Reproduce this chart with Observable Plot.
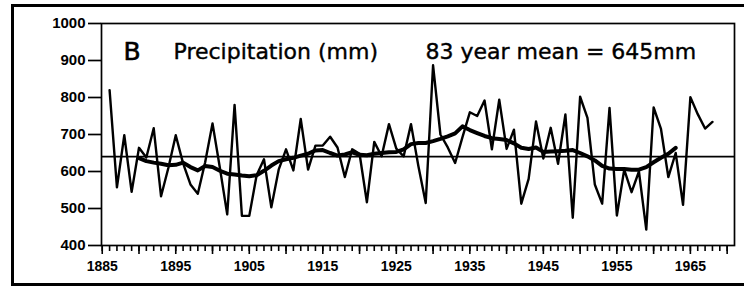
<!DOCTYPE html>
<html><head><meta charset="utf-8">
<script src="https://cdn.jsdelivr.net/npm/d3@7"></script>
<script src="https://cdn.jsdelivr.net/npm/@observablehq/plot@0.6"></script>
<style>
html,body{margin:0;padding:0;background:#fff;}
#chart{width:744px;height:288px;overflow:hidden;}
</style></head><body><div id="chart"></div>
<script>
// annual precipitation (mm), 1886..1968
const startYear = 1886;
const precip = [
  820, 557, 698, 545, 664, 638, 717, 533, 610, 698,
  622, 565, 540, 625, 730, 610, 484, 780, 480, 480,
  590, 633, 503, 605, 660, 603, 742, 605, 670, 670,
  694, 665, 585, 660, 648, 517, 680, 641, 728, 662,
  641, 728, 615, 515, 887, 700, 665, 623, 693, 760,
  750, 792, 660, 794, 661, 713, 513, 580, 735, 635,
  718, 621, 754, 475, 802, 745, 565, 513, 772, 481,
  605, 544, 600, 443, 773, 715, 585, 650, 510, 801,
  755, 716, 734
];
// running mean (thick line), 1890..1963
const maStart = 1890;
const runningMean = [
  636, 628, 624, 621, 617, 618, 624, 612, 603, 615,
  612, 602, 594, 592, 589, 587, 590, 602, 616, 628,
  633, 637, 643, 648, 657, 658, 650, 643, 646, 652,
  645, 644, 648, 650, 652, 653, 660, 674, 677, 677,
  682, 688, 695, 703, 722, 712, 704, 696, 690, 688,
  685, 676, 664, 661, 665, 653, 654, 655, 656, 658,
  650, 641, 630, 615, 608, 607, 607, 605, 605, 612,
  625, 637, 648, 664
];
const meanLine = [640];
const yTicks = [400, 500, 600, 700, 800, 900, 1000];
const decadeTicks = [1885, 1895, 1905, 1915, 1925, 1935, 1945, 1955, 1965];
const titleLetter = ["B"];
const titleText = ["Precipitation (mm)"];
const meanText = ["83 year mean = 645mm"];

const annual = precip.map((v, i) => ({year: startYear + i, value: v}));
const smooth = runningMean.map((v, i) => ({year: maStart + i, value: v}));
const yearTicks = d3.range(1885, 1971);
const fiveTicks = d3.range(1885, 1971, 5);
const titleFont = "'DejaVu Sans', sans-serif";

const plot = Plot.plot({
  width: 744, height: 288,
  marginLeft: 101, marginRight: 10, marginTop: 23, marginBottom: 43,
  x: {domain: [1884.9, 1971], label: null},
  y: {domain: [400, 1000], label: null},
  style: {fontFamily: "'Liberation Sans', Arial, sans-serif", fontSize: "15px", fontWeight: "bold", background: "white", color: "black", overflow: "hidden"},
  marks: [
    Plot.frame({stroke: "black", strokeWidth: 3, insetLeft: -89, insetTop: -18, insetBottom: -39, insetRight: -40}),
    Plot.frame({stroke: "black", strokeWidth: 1.7}),
    Plot.ruleY(meanLine, {stroke: "black", strokeWidth: 1.7}),
    Plot.lineY(annual, {x: "year", y: "value", stroke: "black", strokeWidth: 2.4}),
    Plot.lineY(smooth, {x: "year", y: "value", stroke: "black", strokeWidth: 4}),
    Plot.axisY({ticks: yTicks, tickSize: 13, tickPadding: 3, tickFormat: d => String(d), label: null, strokeWidth: 1.7}),
    Plot.axisX({ticks: yearTicks, tickSize: 6, tickFormat: () => "", label: null, strokeWidth: 1.6}),
    Plot.axisX({ticks: fiveTicks, tickSize: 9, tickFormat: () => "", label: null, strokeWidth: 1.6}),
    Plot.axisX({ticks: decadeTicks, tickSize: 0, tickPadding: 16, tickFormat: d => String(d), label: null}),
    Plot.text(titleLetter, {text: d => d, frameAnchor: "top-left", textAnchor: "start", dx: 22, dy: 19, fontSize: 25, fontWeight: "normal", fontFamily: titleFont, fill: "black", stroke: "black", strokeWidth: 0.6}),
    Plot.text(titleText, {text: d => d, frameAnchor: "top-left", textAnchor: "start", dx: 72, dy: 20, fontSize: 22, fontWeight: "normal", fontFamily: titleFont, fill: "black", stroke: "black", strokeWidth: 0.4}),
    Plot.text(meanText, {text: d => d, frameAnchor: "top-left", textAnchor: "start", dx: 324, dy: 20, fontSize: 22, fontWeight: "normal", fontFamily: titleFont, fill: "black", stroke: "black", strokeWidth: 0.4})
  ]
});
// enlarge the tick labels (inline style on each text node)
d3.select(plot).selectAll("text").each(function() {
  const t = (this.textContent || "").trim();
  if (/^\d{3,4}$/.test(t)) {
    const isYear = +t > 1800;
    this.style.fontSize = isYear ? "14px" : "15px";
    this.style.fontWeight = "bold";
    this.style.fontFamily = "'Liberation Sans', Arial, sans-serif";
  }
});
document.getElementById("chart").appendChild(plot);
</script>
</body></html>
